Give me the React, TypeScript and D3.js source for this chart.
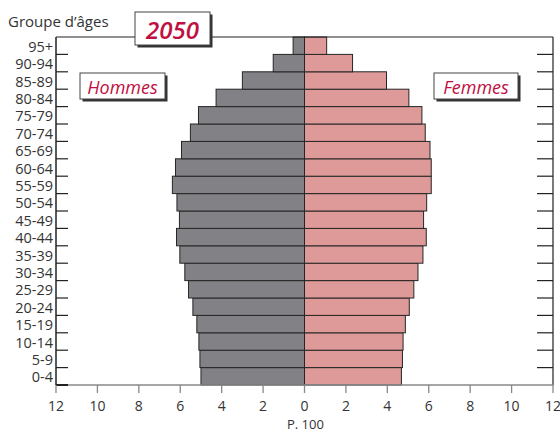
import React from "react";
import * as d3 from "d3";

const ageGroups = ["0-4","5-9","10-14","15-19","20-24","25-29","30-34","35-39","40-44","45-49","50-54","55-59","60-64","65-69","70-74","75-79","80-84","85-89","90-94","95+"];
const hommes = [5.0,5.05,5.1,5.2,5.39,5.6,5.78,6.02,6.18,6.04,6.16,6.38,6.23,5.94,5.51,5.12,4.27,3.0,1.51,0.55];
const femmes = [4.68,4.73,4.76,4.87,5.06,5.28,5.48,5.72,5.88,5.75,5.9,6.12,6.12,6.06,5.83,5.67,5.04,3.96,2.32,1.07];
const xTicks = [-12,-10,-8,-6,-4,-2,0,2,4,6,8,10,12];

const W = 560, H = 431;
const left = 56, right = 553, top = 37, bottom = 385;
const FONT = "'Open Sans', 'DejaVu Sans', sans-serif";
const RED = "#c0103f";
const TXT = "#333";

export default function App() {
  const x = d3.scaleLinear().domain([-12, 12]).range([left, right]);
  const y = d3.scaleBand<string>().domain([...ageGroups].reverse()).range([top, bottom]).padding(0);
  const bw = y.bandwidth();
  const x0 = x(0);
  const boundaries = ageGroups.slice(0, -1).map((g) => (y(g) as number));

  const box = (bx: number, by: number, w: number, h: number, label: string, size: number, weight: number) => (
    <g>
      <rect x={bx + 2.5} y={by + 2.5} width={w} height={h} fill="#333" />
      <rect x={bx} y={by} width={w} height={h} fill="#fff" stroke="#444" strokeWidth={1} />
      <text x={bx + w / 2} y={by + h / 2 + 0.5} textAnchor="middle" dominantBaseline="central"
        fontFamily={FONT} fontStyle="italic" fontWeight={weight} fontSize={size} fill={RED}>{label}</text>
    </g>
  );

  return (
    <svg width={W} height={H} style={{ position: "absolute", left: 0, top: 0, background: "#fff" }}>
      {ageGroups.map((g, i) => (
        <rect key={"h" + g} x={x(-hommes[i])} y={y(g)} width={x0 - x(-hommes[i])} height={bw}
          fill="#818186" stroke="#262626" strokeWidth={1} />
      ))}
      {ageGroups.map((g, i) => (
        <rect key={"f" + g} x={x0} y={y(g)} width={x(femmes[i]) - x0} height={bw}
          fill="#de9a98" stroke="#262626" strokeWidth={1} />
      ))}
      <line x1={left} x2={right} y1={top} y2={top} stroke="#222" strokeWidth={1.2} />
      <line x1={right} x2={right} y1={top} y2={bottom} stroke="#222" strokeWidth={1.2} />
      <line x1={left} x2={left} y1={top} y2={bottom} stroke="#222" strokeWidth={1.5} />
      <line x1={left} x2={right} y1={bottom} y2={bottom} stroke="#888" strokeWidth={1.5} />
      <line x1={left} x2={left + 12} y1={bottom} y2={bottom} stroke="#222" strokeWidth={2} />
      {boundaries.map((b, i) => (
        <g key={"t" + i}>
          <line x1={left} x2={left + 12} y1={b} y2={b} stroke="#222" strokeWidth={1.2} />
          <line x1={right - 16} x2={right} y1={b} y2={b} stroke="#222" strokeWidth={1.2} />
        </g>
      ))}
      {xTicks.map((t) => (
        <g key={"x" + t}>
          <line x1={x(t)} x2={x(t)} y1={bottom} y2={bottom + 8} stroke="#888" strokeWidth={1.3} />
          <text x={x(t)} y={405} textAnchor="middle" dominantBaseline="central" fontFamily={FONT} fontSize={14} fill={TXT}>{Math.abs(t)}</text>
        </g>
      ))}
      {ageGroups.map((g) => (
        <text key={"l" + g} x={53} y={(y(g) as number) + bw / 2 + 0.5} textAnchor="end" dominantBaseline="central"
          fontFamily={FONT} fontSize={14.5} fill={TXT}>{g}</text>
      ))}
      <text x={287} y={428.5} fontFamily={FONT} fontSize={13} fill={TXT}>P. 100</text>
      <text x={8} y={27} fontFamily={FONT} fontSize={15} fill={TXT}>Groupe d’âges</text>
      {box(135, 12, 75, 33, "2050", 24, 600)}
      {box(80, 73, 85, 26, "Hommes", 18, 400)}
      {box(434, 73, 84, 26, "Femmes", 18, 400)}
    </svg>
  );
}
